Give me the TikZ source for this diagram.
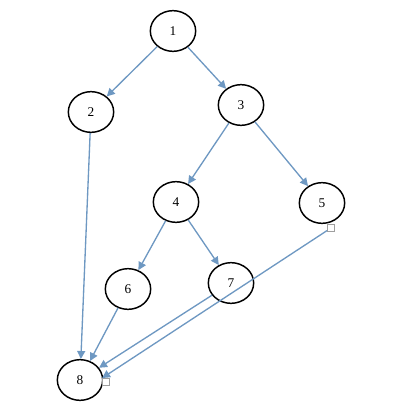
\documentclass[tikz,border=0pt]{standalone}
\usepackage{fontspec}
\setmainfont{Liberation Serif}
\usepackage{xcolor}
\usetikzlibrary{arrows.meta, shapes.geometric}
\definecolor{edgeblue}{RGB}{110,152,194}

\begin{document}
\begin{tikzpicture}[
  x=0.75pt, y=-0.75pt,
  vtx/.style={ellipse, draw=black, line width=1.1pt, fill=white,
              minimum width=34pt, minimum height=30.5pt, inner sep=0pt,
              font=\fontsize{10}{11}\selectfont},
  hdl/.style={rectangle, draw=gray!75, fill=white, line width=0.4pt,
              minimum size=5.5pt, inner sep=0pt},
  arr/.style={-{Triangle[length=6pt,width=6pt]}, edgeblue, line width=1pt},
]
\useasboundingbox (0,0) rectangle (406,414);

%% ---- vertices ----
\node[vtx] (n1) at (173,31)  {1};
\node[vtx] (n2) at (91,112)  {2};
\node[vtx] (n3) at (241,105) {3};
\node[vtx] (n4) at (176,202) {4};
\node[vtx] (n5) at (322,203) {5};
\node[vtx] (n6) at (128,289) {6};
\node[vtx] (n7) at (231,283) {7};
\node[vtx] (n8) at (80,380)  {8};

%% connection handles
\node[hdl] (h5) at (331,228) {};
\node[hdl] (h8) at (106,382) {};

%% ---- edges ----
\draw[arr] (n1) -- (n2);
\draw[arr] (n1) -- (n3);
\draw[arr] (n2) -- (n8);
\draw[arr] (n3) -- (n4);
\draw[arr] (n3) -- (n5);
\draw[arr] (n4) -- (n6);
\draw[arr] (n4) -- (n7);
\draw[arr] (n6) -- (n8);
\draw[arr] (n7) -- (n8);
\draw[arr] (h5) -- (h8.north west);

\end{tikzpicture}
\end{document}
